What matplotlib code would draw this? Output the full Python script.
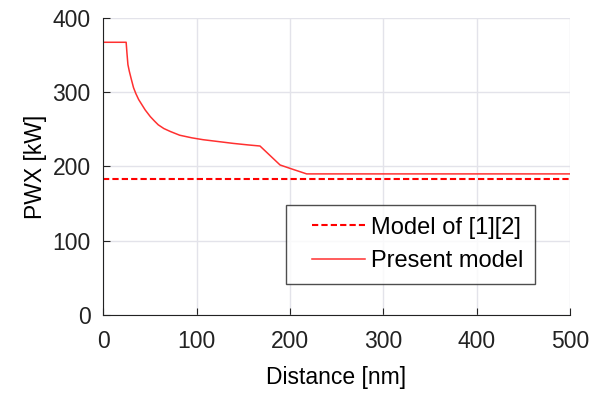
import matplotlib.pyplot as plt
from matplotlib.legend_handler import HandlerLine2D

plt.rcParams['font.family'] = ['Liberation Sans', 'DejaVu Sans']

# present model curve
dist = [0, 24.6, 25.5, 26.5, 28, 30, 32.5, 35, 38, 41.5, 45, 50.5, 55, 59,
        65, 72, 82, 95, 107, 120, 139.5, 155, 168, 189.5, 200, 218, 500]
pwx = [367, 367, 352, 337, 328, 318, 306, 298, 290, 283, 276, 267, 261, 256,
       251, 247, 242, 238.5, 236, 234, 231, 229, 227.5, 202, 197.5, 190, 190]

# reference model (constant)
ref_x = [0, 500]
ref_pwx = [183, 183]


class IndentedLine(HandlerLine2D):
    """legend line that starts a bit in from the frame"""
    def get_xdata(self, legend, xdescent, ydescent, width, height, fontsize):
        x0 = -xdescent + width * 0.22
        x1 = -xdescent + width
        return [x0, x1], [x0, x1]


fig, ax = plt.subplots(figsize=(5.93, 3.94), dpi=100)
fig.subplots_adjust(left=0.174, right=0.961, top=0.955, bottom=0.2)

ax.plot(ref_x, ref_pwx, color='#ff0000', linestyle=(0, (3, 1.5)), linewidth=1.5,
        label='Model of [1][2]')
ax.plot(dist, pwx, color='#ff3030', linewidth=1.1, label='Present model')

ax.set_xlim(0, 500)
ax.set_ylim(0, 400)
ax.set_xticks(range(0, 501, 100))
ax.set_yticks(range(0, 401, 100))
ax.grid(True, color='#e3e3ea', linewidth=1)
ax.set_axisbelow(True)

for side in ('top', 'right'):
    ax.spines[side].set_visible(False)
for side in ('left', 'bottom'):
    ax.spines[side].set_color('#222222')
ax.tick_params(direction='in', length=5, labelsize=16.5, colors='#222222', pad=9)
ax.tick_params(axis='x', pad=11)

ax.set_xlabel('Distance [nm]', fontsize=16.5, labelpad=9)
ax.set_ylabel('PWX [kW]', fontsize=16.5, labelpad=4)

leg = ax.legend(loc='lower right', bbox_to_anchor=(0.925, 0.104), borderaxespad=0,
                fontsize=17, frameon=True, fancybox=False, edgecolor='#222222',
                handlelength=2.85, handletextpad=0.25, borderpad=0.5, labelspacing=0.5,
                handler_map={plt.Line2D: IndentedLine()})
leg.get_frame().set_linewidth(1)

fig.savefig('out.png', dpi=100)
